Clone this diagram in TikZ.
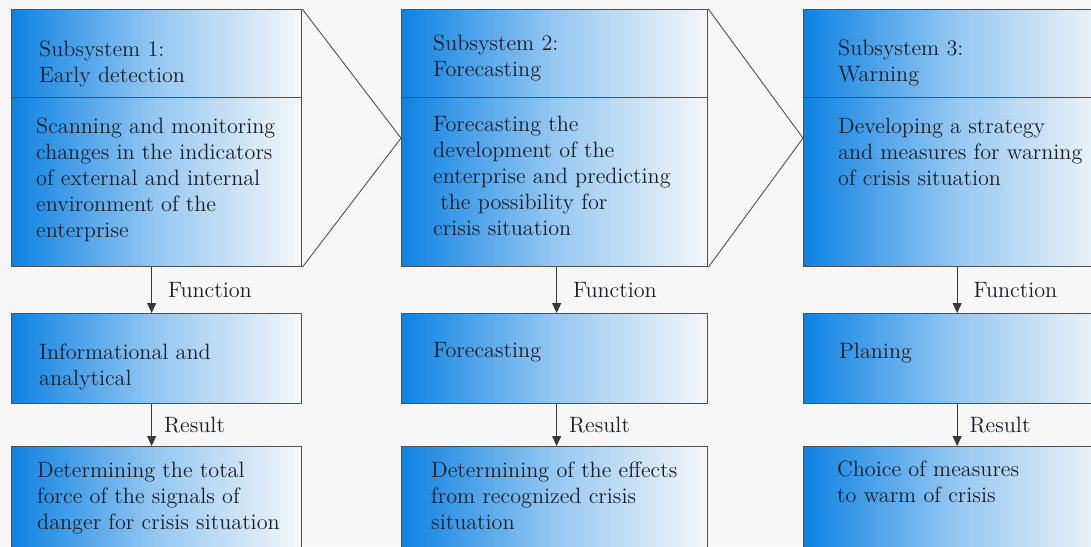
\documentclass[tikz,border=0pt]{standalone}
\usepackage{tikz}
\usetikzlibrary{calc, arrows.meta}
\definecolor{Page}{RGB}{247,247,247}
\definecolor{BoxLeft}{RGB}{14,130,226}
\definecolor{BoxMid}{RGB}{150,200,242}
\definecolor{BoxRight}{RGB}{246,247,249}
\definecolor{Edge}{RGB}{80,80,80}
\definecolor{Ink}{RGB}{25,30,40}
% text at a 12pt design size, blown up twice
\newcommand{\boxtext}[1]{\scalebox{2}{\fontsize{11.1}{13}\selectfont\begin{tabular}{@{}l@{}}#1\end{tabular}}}

\begin{document}
\begin{tikzpicture}[
  x=1pt, y=-1pt,
  box/.style={rectangle, draw=Edge, line width=1.3pt, anchor=north west, inner sep=0pt,
    left color=BoxLeft, right color=BoxRight, middle color=BoxMid},
  txt/.style={anchor=north west, inner sep=0pt, text=Ink},
  lbl/.style={midway, anchor=west, inner sep=0pt, xshift=16pt, yshift=-2pt, text=Ink},
  flow/.style={draw=Edge!70!black, line width=1pt, -{Triangle[length=10pt, width=9pt]}},
  chev/.style={draw=Edge, line width=0.9pt}
]

\useasboundingbox (0,0) rectangle (1091,546);
\fill[Page] (0,0) rectangle (1091,546);
\clip (0,0) rectangle (1091,546);

% boxes of the three subsystems
\foreach \c/\x/\w in {1/11/290, 2/401/306, 3/803/307}
{
  \node[box, minimum width=\w, minimum height=88]  (sub\c)  at (\x,9)   {};
  \node[box, minimum width=\w, minimum height=169] (desc\c) at (\x,97)  {};
  \node[box, minimum width=\w, minimum height=90]  (func\c) at (\x,313) {};
  \node[box, minimum width=\w, minimum height=120] (res\c)  at (\x,446) {};
}

\draw[chev] (sub1.north east) -- ($(sub2.north west)!.5!(desc2.south west)$) -- (desc1.south east);
\draw[chev] (sub2.north east) -- ($(sub3.north west)!.5!(desc3.south west)$) -- (desc2.south east);

\foreach \c/\dx in {1/-5, 2/2, 3/0}
{
  \draw[flow] ([xshift=\dx]desc\c.south) -- node[lbl] {\boxtext{Function}} ([xshift=\dx]func\c.north);
  \draw[flow] ([xshift=\dx]func\c.south) -- node[lbl, xshift=-4pt] {\boxtext{Result}} ([xshift=\dx]res\c.north);
}

% texts
\node[txt] (sub1txt)  at (39,37.8)  {\boxtext{Subsystem 1:\\Early detection}};
\node[txt] (desc1txt) at (36,114.8) {\boxtext{Scanning and monitoring\\changes in the indicators\\of external and internal\\environment of the\\enterprise}};
\node[txt] (func1txt) at (39,340.8) {\boxtext{Informational and\\analytical}};
\node[txt] (res1txt)  at (37,458.8) {\boxtext{Determining the total\\force of the signals of\\danger for crisis situation}};

\node[txt] (sub2txt)  at (433,31.8)  {\boxtext{Subsystem 2:\\Forecasting}};
\node[txt] (desc2txt) at (433,112.8) {\boxtext{Forecasting the\\development of the\\enterprise and predicting\\\ the possibility for\\crisis situation}};
\node[txt] (func2txt) at (433,338.8) {\boxtext{Forecasting}};
\node[txt] (res2txt)  at (431,458.8) {\boxtext{Determining of the effects\\from recognized crisis\\situation}};

\node[txt] (sub3txt)  at (838,36.8)  {\boxtext{Subsystem 3:\\Warning}};
\node[txt] (desc3txt) at (838,114.8) {\boxtext{Developing a strategy\\and measures for warning\\of crisis situation}};
\node[txt] (func3txt) at (839,339.8) {\boxtext{Planing}};
\node[txt] (res3txt)  at (837,457.8) {\boxtext{Choice of measures\\to warm of crisis}};
\end{tikzpicture}
\end{document}
